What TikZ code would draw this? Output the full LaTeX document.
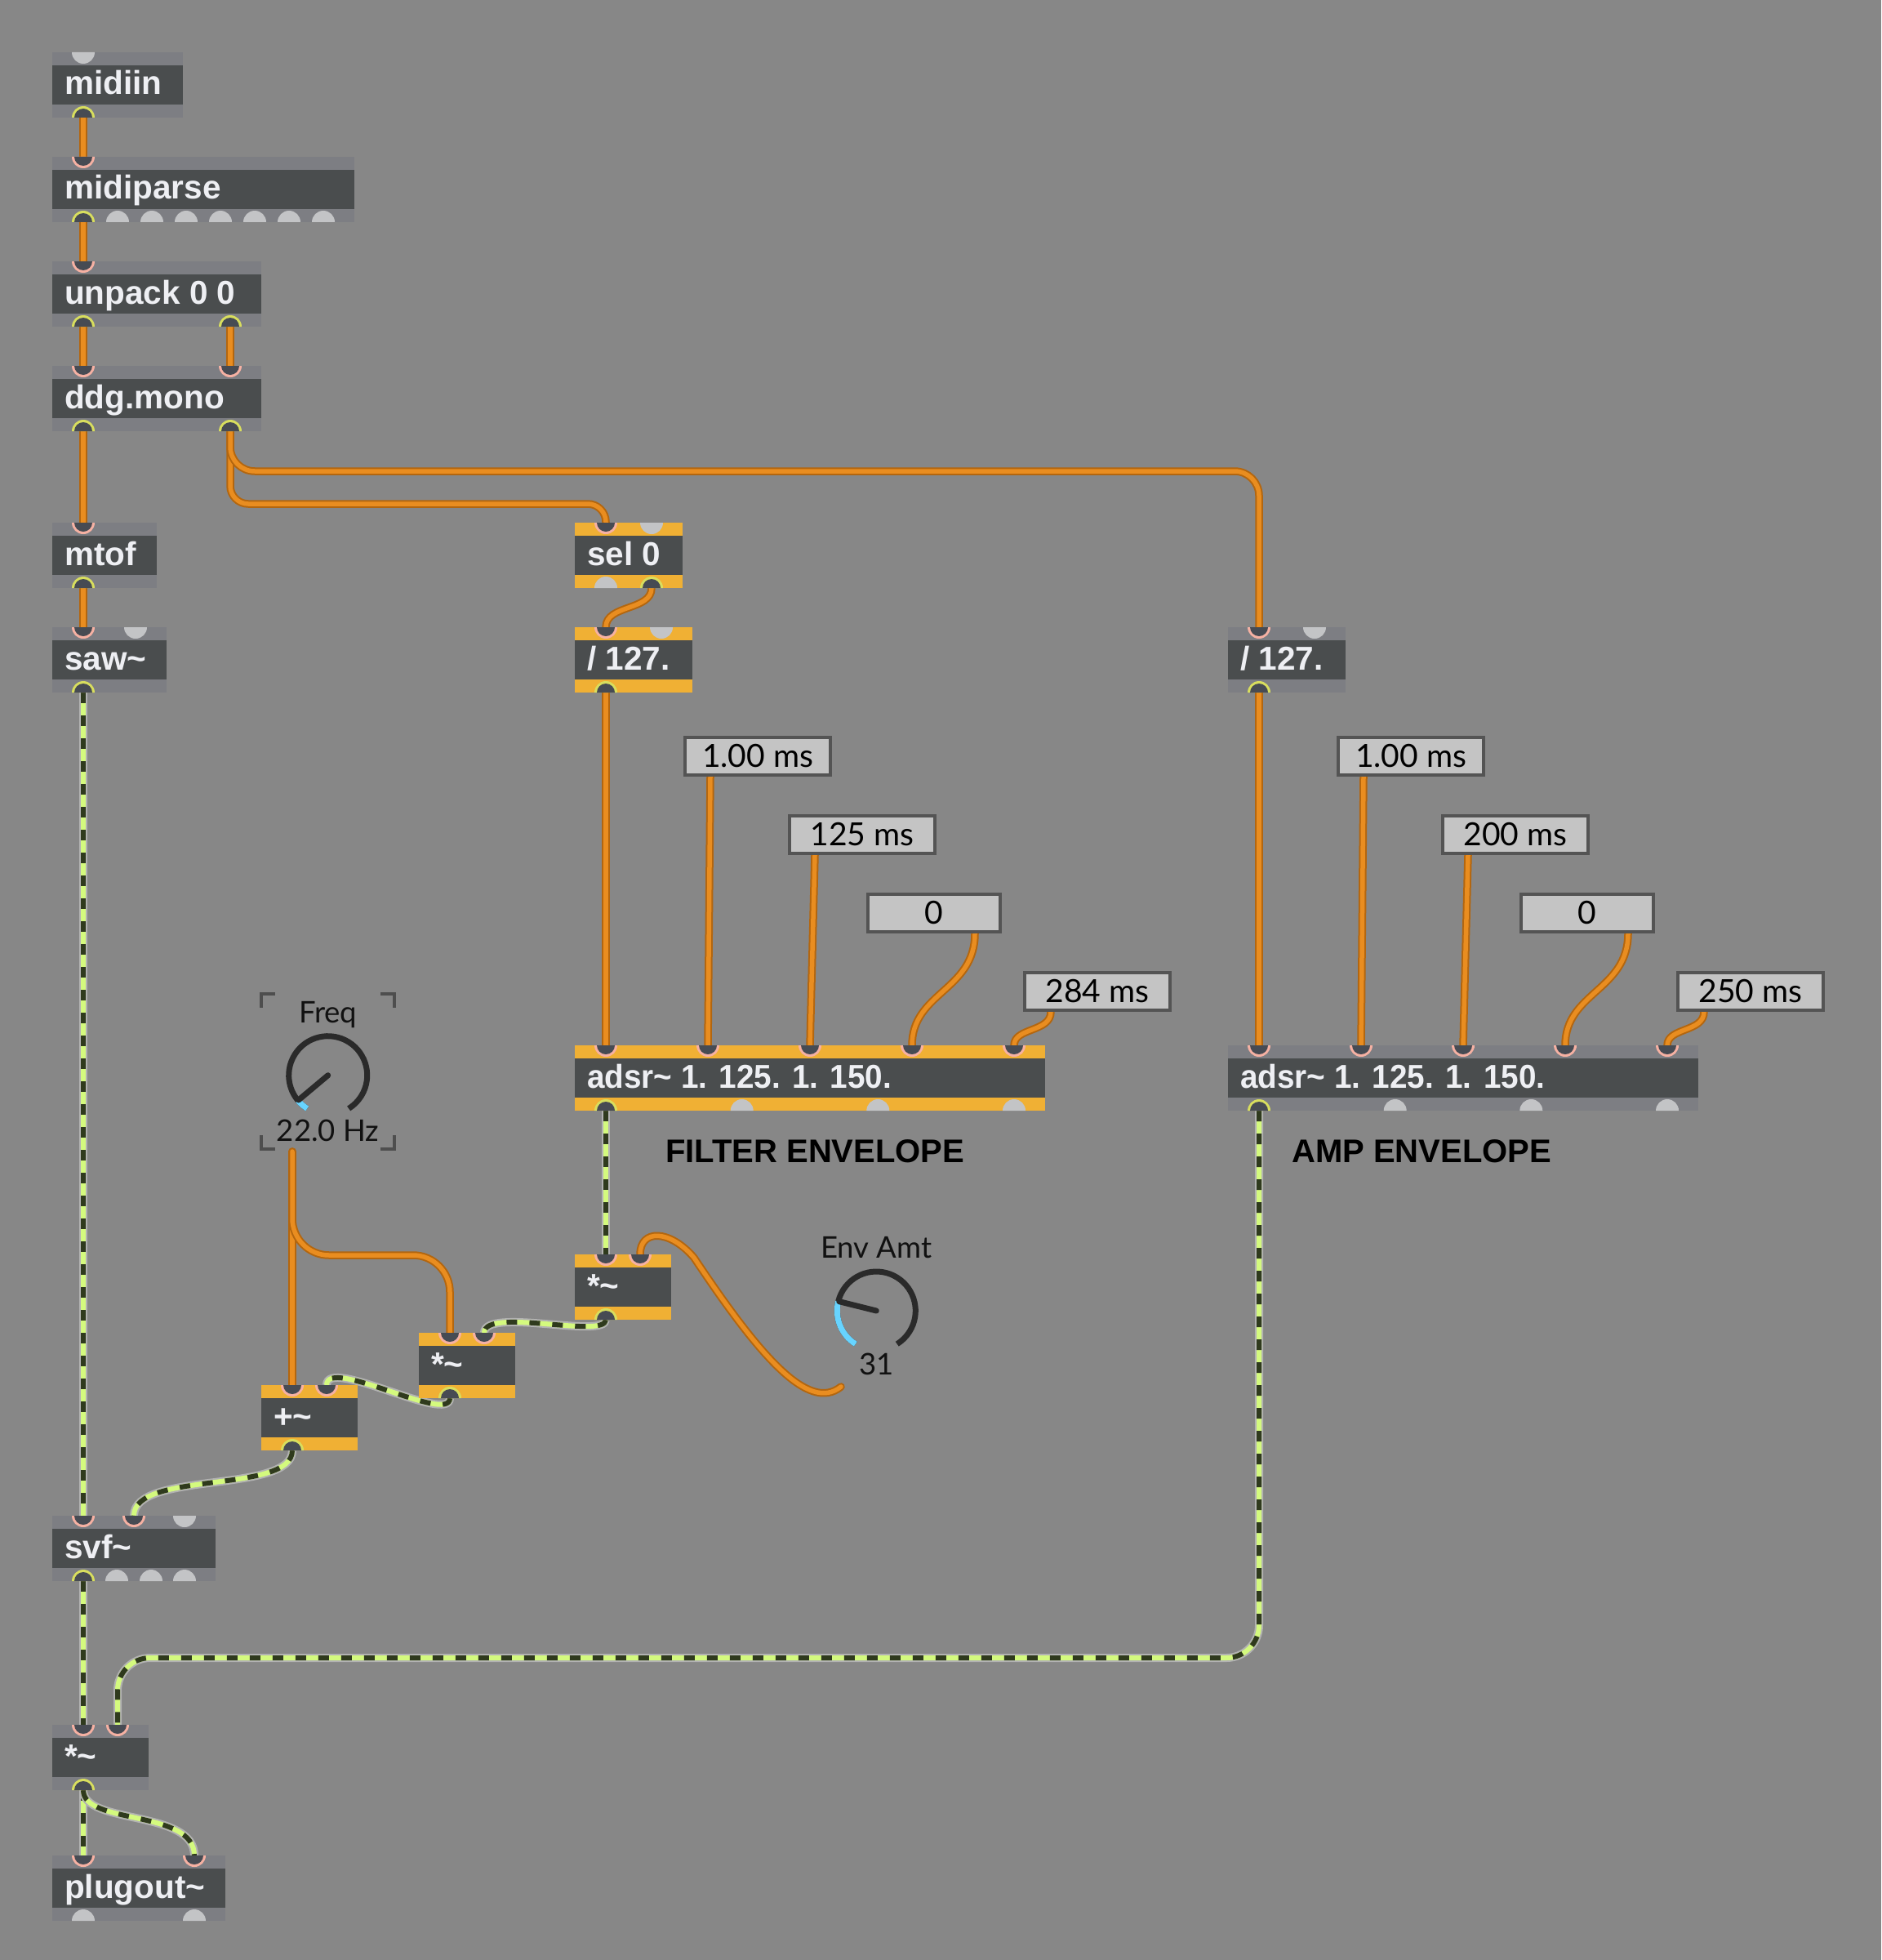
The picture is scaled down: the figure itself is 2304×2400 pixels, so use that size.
\documentclass[tikz,border=0pt]{standalone}
\usepackage{graphicx}
\usepackage{fontspec}
\setmainfont{Liberation Sans}
\newfontfamily\latofont{Lato}
\usetikzlibrary{calc}
\pgfdeclarelayer{bg}
\pgfdeclarelayer{wires}
\pgfsetlayers{bg,wires,main}

\definecolor{bgc}{HTML}{878787}
\definecolor{stripg}{HTML}{7D7E83}
\definecolor{stripo}{HTML}{F0B034}
\definecolor{bodyc}{HTML}{4A4D4E}
\definecolor{objtxt}{HTML}{EEEFF3}
\definecolor{portc}{HTML}{474B53}
\definecolor{ringin}{HTML}{F6B1A3}
\definecolor{ringout}{HTML}{D8DE5E}
\definecolor{freeport}{HTML}{C3C4C6}
\definecolor{ctlout}{HTML}{B3660F}
\definecolor{ctlin}{HTML}{E98D20}
\definecolor{sigout}{HTML}{B2B2B2}
\definecolor{siglight}{HTML}{D4FA7E}
\definecolor{sigdark}{HTML}{2F3A1D}
\definecolor{nbfill}{HTML}{C4C4C4}
\definecolor{nbedge}{HTML}{545454}
\definecolor{dialc}{HTML}{2A2A2A}
\definecolor{dialblue}{HTML}{67D4FF}
\definecolor{brk}{HTML}{4E4E4E}
\definecolor{inktxt}{HTML}{111111}

\newcommand\objfont{\fontsize{40.5}{42}\selectfont\bfseries}
\newcommand\uifont{\latofont\fontsize{36.5}{38}\selectfont}
\newcommand\nbfont{\latofont\fontsize{39}{42}\selectfont}
\newcommand\tld{\textasciitilde}
\newcommand\adsrtext{\scalebox{0.955}[1]{adsr\tld{} 1. 125. 1. 150.}}

% object box: name, left, top, width, text, strip colour
\newcommand\maxobj[6]{%
  \node[objframe, fill=#6, minimum width=#4pt, anchor=north west] (#1) at (#2,#3) {};
  \fill[bodyc] (#2,#3+16) rectangle (#2+#4,#3+64);
  \node[objtext] (#1-t) at (#2+15,#3+52) {#5};}
% connected inlet / outlet: name, x, edge y
\newcommand\maxin[3]{%
  \fill[ringin] (#2-14,#3) arc[start angle=180,end angle=360,radius=14pt] -- cycle;
  \fill[portc] (#2-11,#3) arc[start angle=180,end angle=360,radius=11pt] -- cycle;
  \coordinate (#1) at (#2,#3);}
\newcommand\maxout[3]{%
  \fill[ringout] (#2-14,#3) arc[start angle=180,end angle=0,radius=14pt] -- cycle;
  \fill[portc] (#2-11,#3) arc[start angle=180,end angle=0,radius=11pt] -- cycle;
  \coordinate (#1) at (#2,#3);}
% unused inlet / outlet: x, edge y
\newcommand\maxfreein[2]{\fill[freeport] (#1-14,#2) arc[start angle=180,end angle=360,radius=14pt] -- cycle;}
\newcommand\maxfreeout[2]{\fill[freeport] (#1-14,#2) arc[start angle=180,end angle=0,radius=14pt] -- cycle;}
% number box: name, left, top, width, text, outlet x
\newcommand\numbox[6]{%
  \node[nbox, minimum width=#4pt-4pt, anchor=north west] (#1) at (#2+2,#3+2) {};
  \node[nbtext] (#1-t) at (#2+#4/2,#3+38) {#5};
  \coordinate (#1-out) at (#6,#3+50);}

\tikzset{
  objframe/.style={inner sep=0pt, outer sep=0pt, minimum height=80pt, draw=none},
  objtext/.style={anchor=base west, inner sep=0pt, text=objtxt, font=\objfont},
  nbox/.style={fill=nbfill, draw=nbedge, line width=4pt, minimum height=46pt, inner sep=0pt, outer sep=0pt},
  nbtext/.style={anchor=base, inner sep=0pt, text=black, font=\nbfont},
  uitext/.style={anchor=base, inner sep=0pt, text=inktxt, font=\uifont},
  labeltext/.style={anchor=base west, inner sep=0pt, text=black, font=\fontsize{40}{42}\selectfont\bfseries},
  ctl/.style={draw=ctlout, line width=9.5pt, line cap=round, line join=round,
    postaction={draw=ctlin, line width=5.5pt}},
  sig/.style={draw=sigout, line width=10pt, line join=round,
    postaction={draw=siglight, line width=6pt},
    postaction={draw=sigdark, line width=6pt, dash pattern=on 13pt off 15pt}},
  dialarc/.style={draw=dialc, line width=7pt},
  dialval/.style={draw=dialblue, line width=7pt},
  dialneedle/.style={draw=dialc, line width=7pt, line cap=round},
  bracket/.style={draw=brk, line width=4pt}
}

\begin{document}
\begin{tikzpicture}[x=1pt, y=-1pt]
\useasboundingbox (0,0) rectangle (2304,2400);
\begin{pgfonlayer}{bg}
  \fill[bgc] (0,0) rectangle (2304,2400);
\end{pgfonlayer}

% ---- MIDI input chain
\maxobj{midiin}{64}{64}{160}{midiin}{stripg}
\maxfreein{102}{64}
\maxout{midiin-o1}{102}{144}

\maxobj{midiparse}{64}{192}{370}{midiparse}{stripg}
\maxin{midiparse-i1}{102}{192}
\maxout{midiparse-o1}{102}{272}
\foreach \k in {1,...,7} {\maxfreeout{102+42*\k}{272}}

\maxobj{unpack}{64}{320}{256}{unpack 0 0}{stripg}
\maxin{unpack-i1}{102}{320}
\maxout{unpack-o1}{102}{400}
\maxout{unpack-o2}{282}{400}

\maxobj{ddg}{64}{448}{256}{ddg.mono}{stripg}
\maxin{ddg-i1}{102}{448}
\maxin{ddg-i2}{282}{448}
\maxout{ddg-o1}{102}{528}
\maxout{ddg-o2}{282}{528}

\maxobj{mtof}{64}{640}{128}{mtof}{stripg}
\maxin{mtof-i1}{102}{640}
\maxout{mtof-o1}{102}{720}

\maxobj{saw}{64}{768}{140}{saw\tld}{stripg}
\maxin{saw-i1}{102}{768}
\maxfreein{166}{768}
\maxout{saw-o1}{102}{848}

% ---- velocity scaling
\maxobj{sel}{704}{640}{132}{sel 0}{stripo}
\maxin{sel-i1}{742}{640}
\maxfreein{798}{640}
\maxfreeout{742}{720}
\maxout{sel-o2}{798}{720}

\maxobj{fdiv}{704}{768}{144}{/ 127.}{stripo}
\maxin{fdiv-i1}{742}{768}
\maxfreein{810}{768}
\maxout{fdiv-o1}{742}{848}

\maxobj{adiv}{1504}{768}{144}{/ 127.}{stripg}
\maxin{adiv-i1}{1542}{768}
\maxfreein{1610}{768}
\maxout{adiv-o1}{1542}{848}

% ---- envelopes
\maxobj{fadsr}{704}{1280}{576}{\adsrtext}{stripo}
\maxin{fadsr-i1}{742}{1280}
\maxin{fadsr-i2}{867}{1280}
\maxin{fadsr-i3}{992}{1280}
\maxin{fadsr-i4}{1117}{1280}
\maxin{fadsr-i5}{1242}{1280}
\maxout{fadsr-o1}{742}{1360}
\maxfreeout{908.7}{1360}
\maxfreeout{1075.3}{1360}
\maxfreeout{1242}{1360}

\maxobj{aadsr}{1504}{1280}{576}{\adsrtext}{stripg}
\maxin{aadsr-i1}{1542}{1280}
\maxin{aadsr-i2}{1667}{1280}
\maxin{aadsr-i3}{1792}{1280}
\maxin{aadsr-i4}{1917}{1280}
\maxin{aadsr-i5}{2042}{1280}
\maxout{aadsr-o1}{1542}{1360}
\maxfreeout{1708.7}{1360}
\maxfreeout{1875.3}{1360}
\maxfreeout{2042}{1360}

\numbox{nbA1}{837}{901}{182}{1.00 ms}{870}
\numbox{nbA2}{965}{997}{182}{125 ms}{998}
\numbox{nbA3}{1061}{1093}{166}{0}{1194}
\numbox{nbA4}{1253}{1189}{182}{284 ms}{1287}
\numbox{nbB1}{1637}{901}{182}{1.00 ms}{1670}
\numbox{nbB2}{1765}{997}{182}{200 ms}{1798}
\numbox{nbB3}{1861}{1093}{166}{0}{1994}
\numbox{nbB4}{2053}{1189}{182}{250 ms}{2087}

\node[labeltext] (flab) at (815,1423) {FILTER ENVELOPE};
\node[labeltext] (alab) at (1582,1423) {AMP ENVELOPE};

% ---- cutoff modulation
\maxobj{fmul}{704}{1536}{118}{*\tld}{stripo}
\maxin{fmul-i1}{742}{1536}
\maxin{fmul-i2}{784}{1536}
\maxout{fmul-o1}{742}{1616}

\maxobj{mmul}{513}{1632}{118}{*\tld}{stripo}
\maxin{mmul-i1}{551}{1632}
\maxin{mmul-i2}{593}{1632}
\maxout{mmul-o1}{551}{1712}

\maxobj{fplus}{320}{1696}{118}{+\tld}{stripo}
\maxin{fplus-i1}{358}{1696}
\maxin{fplus-i2}{400}{1696}
\maxout{fplus-o1}{358}{1776}

% ---- Freq dial
\draw[bracket] (320,1234) -- (320,1217) -- (337,1217);
\draw[bracket] (466,1217) -- (483,1217) -- (483,1234);
\draw[bracket] (320,1390) -- (320,1407) -- (337,1407);
\draw[bracket] (466,1407) -- (483,1407) -- (483,1390);
\node[uitext] (freq-lab) at (401.7,1252) {Freq};
\node[uitext] (freq-val) at (401.7,1397) {22.0 Hz};
\coordinate (freqc) at (401.7,1316.7);
\draw[dialarc] (freqc) ++(238:48pt) arc[start angle=238,end angle=-58,radius=48pt];
\draw[dialval] (freqc) ++(238:48pt) arc[start angle=238,end angle=220,radius=48pt];
\draw[dialneedle] (freqc) -- ++(220:47pt);
\coordinate (freq-out) at (358,1410);

% ---- Env Amt dial
\node[uitext] (env-lab) at (1073.3,1540) {Env Amt};
\node[uitext] (env-val) at (1073.3,1683) {31};
\coordinate (envc) at (1073.3,1605);
\draw[dialarc] (envc) ++(238:48pt) arc[start angle=238,end angle=-58,radius=48pt];
\draw[dialval] (envc) ++(238:48pt) arc[start angle=238,end angle=166,radius=48pt];
\draw[dialneedle] (envc) -- ++(166:47pt);
\coordinate (env-out) at (1030,1698);

% ---- filter and output
\maxobj{svf}{64}{1856}{200}{svf\tld}{stripg}
\maxin{svf-i1}{102}{1856}
\maxin{svf-i2}{164}{1856}
\maxfreein{226}{1856}
\maxout{svf-o1}{102}{1936}
\maxfreeout{143}{1936}
\maxfreeout{185}{1936}
\maxfreeout{226}{1936}

\maxobj{omul}{64}{2112}{118}{*\tld}{stripg}
\maxin{omul-i1}{102}{2112}
\maxin{omul-i2}{144}{2112}
\maxout{omul-o1}{102}{2192}

\maxobj{plug}{64}{2272}{212}{plugout\tld}{stripg}
\maxin{plug-i1}{102}{2272}
\maxin{plug-i2}{238}{2272}
\maxfreeout{102}{2352}
\maxfreeout{238}{2352}

% ---- patch cords
\begin{pgfonlayer}{wires}
  \draw[ctl] (midiin-o1) -- (midiparse-i1);
  \draw[ctl] (midiparse-o1) -- (unpack-i1);
  \draw[ctl] (unpack-o1) -- (ddg-i1);
  \draw[ctl] (unpack-o2) -- (ddg-i2);
  \draw[ctl] (ddg-o1) -- (mtof-i1);
  \draw[ctl] (mtof-o1) -- (saw-i1);
  \draw[ctl, rounded corners=22pt] (ddg-o2) -- ++(0,89) -| (sel-i1);
  \draw[ctl, rounded corners=30pt] (ddg-o2) -- ++(0,49) -| (adiv-i1);
  \draw[ctl] (sel-o2) .. controls +(0,28) and +(0,-28) .. (fdiv-i1);
  \draw[ctl] (fdiv-o1) -- (fadsr-i1);
  \draw[ctl] (adiv-o1) -- (aadsr-i1);
  \draw[ctl] (nbA1-out) -- (fadsr-i2);
  \draw[ctl] (nbA2-out) -- (fadsr-i3);
  \draw[ctl] (nbA3-out) .. controls +(0,70) and +(0,-65) .. (fadsr-i4);
  \draw[ctl] (nbA4-out) .. controls +(0,25) and +(0,-22) .. (fadsr-i5);
  \draw[ctl] (nbB1-out) -- (aadsr-i2);
  \draw[ctl] (nbB2-out) -- (aadsr-i3);
  \draw[ctl] (nbB3-out) .. controls +(0,70) and +(0,-65) .. (aadsr-i4);
  \draw[ctl] (nbB4-out) .. controls +(0,25) and +(0,-22) .. (aadsr-i5);
  \draw[ctl] (env-out) .. controls (990,1730) and (930,1660) .. (850,1540)
                       .. controls (820,1505) and (784,1505) .. (fmul-i2);
  \draw[ctl] (freq-out) -- (fplus-i1);
  \draw[ctl, rounded corners=45pt] (freq-out) -- ++(0,127) -| (mmul-i1);

  \draw[sig] (saw-o1) -- (svf-i1);
  \draw[sig] (fadsr-o1) -- (fmul-i1);
  \draw[sig] (fmul-o1) .. controls +(0,24) and +(0,-32) .. (mmul-i2);
  \draw[sig] (mmul-o1) .. controls +(0,33) and +(0,-36) .. (fplus-i2);
  \draw[sig] (fplus-o1) .. controls +(0,54) and +(0,-56) .. (svf-i2);
  \draw[sig] (svf-o1) -- (omul-i1);
  \draw[sig, rounded corners=40pt] (aadsr-o1) -- ++(0,670) -| (omul-i2);
  \draw[sig] (omul-o1) -- (plug-i1);
  \draw[sig] (omul-o1) .. controls +(0,43) and +(0,-57) .. (plug-i2);
\end{pgfonlayer}
\end{tikzpicture}
\end{document}
